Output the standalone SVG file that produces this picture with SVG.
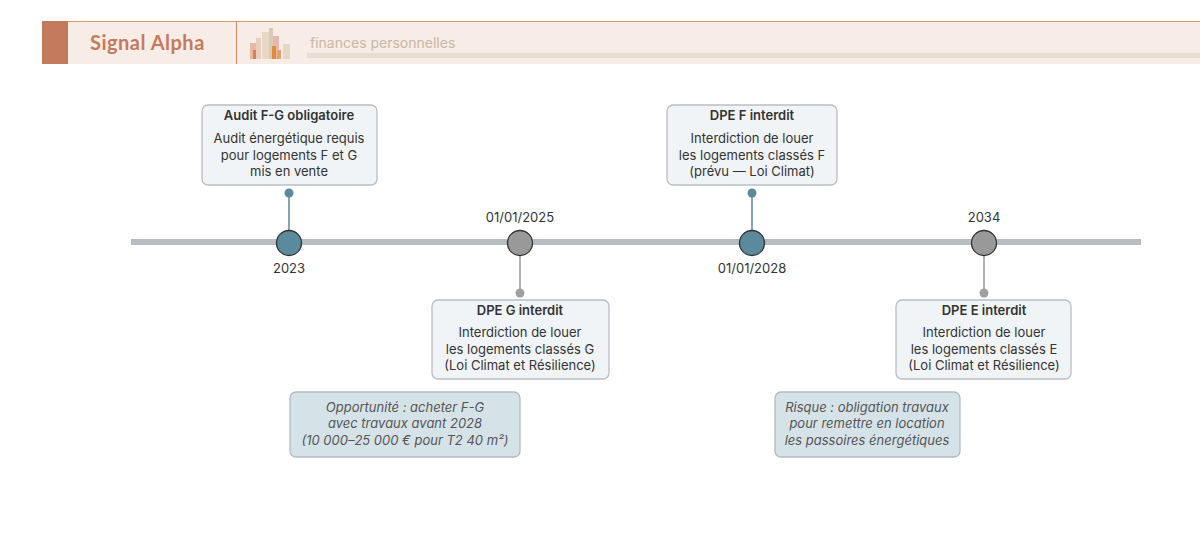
<svg xmlns="http://www.w3.org/2000/svg" width="1200" height="541" viewBox="0 0 1200 541">
<style>
text{font-family:Inter,"Noto Sans",sans-serif;fill:#333;}
.t{font-size:13px;font-weight:600;text-anchor:middle}
.b{font-size:13px;text-anchor:middle}
.d{font-size:13px;text-anchor:middle;fill:#333}
.n{font-size:13px;font-style:italic;text-anchor:middle;fill:#555}
.box{fill:#f1f4f7;stroke:#b8bec4;stroke-width:1.3}
.note{fill:#d5e3e8;stroke:#b0bcc2;stroke-width:1.3}
</style>
<rect width="1200" height="541" fill="#fff"/>
<g id="header">
<rect x="42" y="21" width="1158" height="43" fill="#f7ece6"/>
<line x1="42" y1="21.5" x2="1200" y2="21.5" stroke="#d49a80" stroke-width="1"/>
<rect x="42" y="21" width="26" height="43" fill="#c47a5c"/>
<line x1="236.5" y1="21" x2="236.5" y2="64" stroke="#d08a6c" stroke-width="1"/>
<text x="90" y="50" style="font-family:Lato,sans-serif;font-size:20px;font-weight:700;fill:#c47a5c;letter-spacing:0.5px">Signal Alpha</text>
<rect x="250" y="43" width="6" height="16" fill="#e6b8a8"/>
<rect x="256" y="38" width="5" height="21" fill="#e8cfc0"/>
<rect x="262" y="32" width="7" height="27" fill="#e6d8c4"/>
<rect x="269" y="28" width="4" height="31" fill="#d9cab6"/>
<rect x="273" y="36" width="6" height="23" fill="#e3b8b0"/>
<rect x="272" y="46" width="4" height="13" fill="#e38a3a"/>
<rect x="277" y="50" width="4" height="9" fill="#e6a060"/>
<rect x="283" y="44" width="7" height="15" fill="#e2d8c8"/>
<rect x="253" y="50" width="3" height="9" fill="#d88050"/>
<text x="310" y="48" style="font-size:14px;fill:#c9b7a4">finances personnelles</text>
<rect x="307" y="53" width="893" height="5" fill="#e8ddd2"/>
</g>
<g id="connectors">
<line x1="131" y1="242" x2="1141" y2="242" stroke="#b8bdc2" stroke-width="6"/>
<line x1="289" y1="193" x2="289" y2="230" stroke="#5b8a9c" stroke-width="1.5"/>
<circle cx="289" cy="193" r="4.5" fill="#5b8a9c"/>
<line x1="752" y1="193" x2="752" y2="230" stroke="#5b8a9c" stroke-width="1.5"/>
<circle cx="752" cy="193" r="4.5" fill="#5b8a9c"/>
<line x1="520" y1="254" x2="520" y2="293" stroke="#999" stroke-width="1.5"/>
<circle cx="520" cy="293" r="4.5" fill="#a0a0a0"/>
<line x1="984" y1="254" x2="984" y2="293" stroke="#999" stroke-width="1.5"/>
<circle cx="984" cy="293" r="4.5" fill="#a0a0a0"/>
</g>
<g id="m2023"><circle cx="289" cy="243" r="12.5" fill="#5b8a9c" stroke="#333" stroke-width="1.3"/><text class="d" x="289" y="273">2023</text></g>
<g id="m2025"><circle cx="520" cy="243" r="12.5" fill="#999" stroke="#333" stroke-width="1.3"/><text class="d" x="520" y="222">01/01/2025</text></g>
<g id="m2028"><circle cx="752" cy="243" r="12.5" fill="#5b8a9c" stroke="#333" stroke-width="1.3"/><text class="d" x="752" y="273">01/01/2028</text></g>
<g id="m2034"><circle cx="984" cy="243" r="12.5" fill="#999" stroke="#333" stroke-width="1.3"/><text class="d" x="984" y="222">2034</text></g>
<g id="audit"><rect class="box" x="202" y="105" width="175" height="80" rx="6"/>
<text class="t" x="289" y="120">Audit F-G obligatoire</text>
<text class="b" x="289" y="143">Audit énergétique requis</text>
<text class="b" x="289" y="160">pour logements F et G</text>
<text class="b" x="289" y="176">mis en vente</text></g>
<g id="dpeF"><rect class="box" x="667" y="105" width="170" height="80" rx="6"/>
<text class="t" x="752" y="120">DPE F interdit</text>
<text class="b" x="752" y="143">Interdiction de louer</text>
<text class="b" x="752" y="160">les logements classés F</text>
<text class="b" x="752" y="176">(prévu — Loi Climat)</text></g>
<g id="dpeG"><rect class="box" x="432" y="300" width="177" height="79" rx="6"/>
<text class="t" x="520" y="315">DPE G interdit</text>
<text class="b" x="520" y="337">Interdiction de louer</text>
<text class="b" x="520" y="354">les logements classés G</text>
<text class="b" x="520" y="370">(Loi Climat et Résilience)</text></g>
<g id="dpeE"><rect class="box" x="896" y="300" width="175" height="79" rx="6"/>
<text class="t" x="984" y="315">DPE E interdit</text>
<text class="b" x="984" y="337">Interdiction de louer</text>
<text class="b" x="984" y="354">les logements classés E</text>
<text class="b" x="984" y="370">(Loi Climat et Résilience)</text></g>
<g id="opp"><rect class="note" x="290" y="392" width="230" height="65" rx="6"/>
<text class="n" x="405" y="412">Opportunité : acheter F-G</text>
<text class="n" x="405" y="428">avec travaux avant 2028</text>
<text class="n" x="405" y="445">(10 000–25 000 € pour T2 40 m²)</text></g>
<g id="risk"><rect class="note" x="775" y="392" width="185" height="65" rx="6"/>
<text class="n" x="867" y="412">Risque : obligation travaux</text>
<text class="n" x="867" y="428">pour remettre en location</text>
<text class="n" x="867" y="445">les passoires énergétiques</text></g>
</svg>
